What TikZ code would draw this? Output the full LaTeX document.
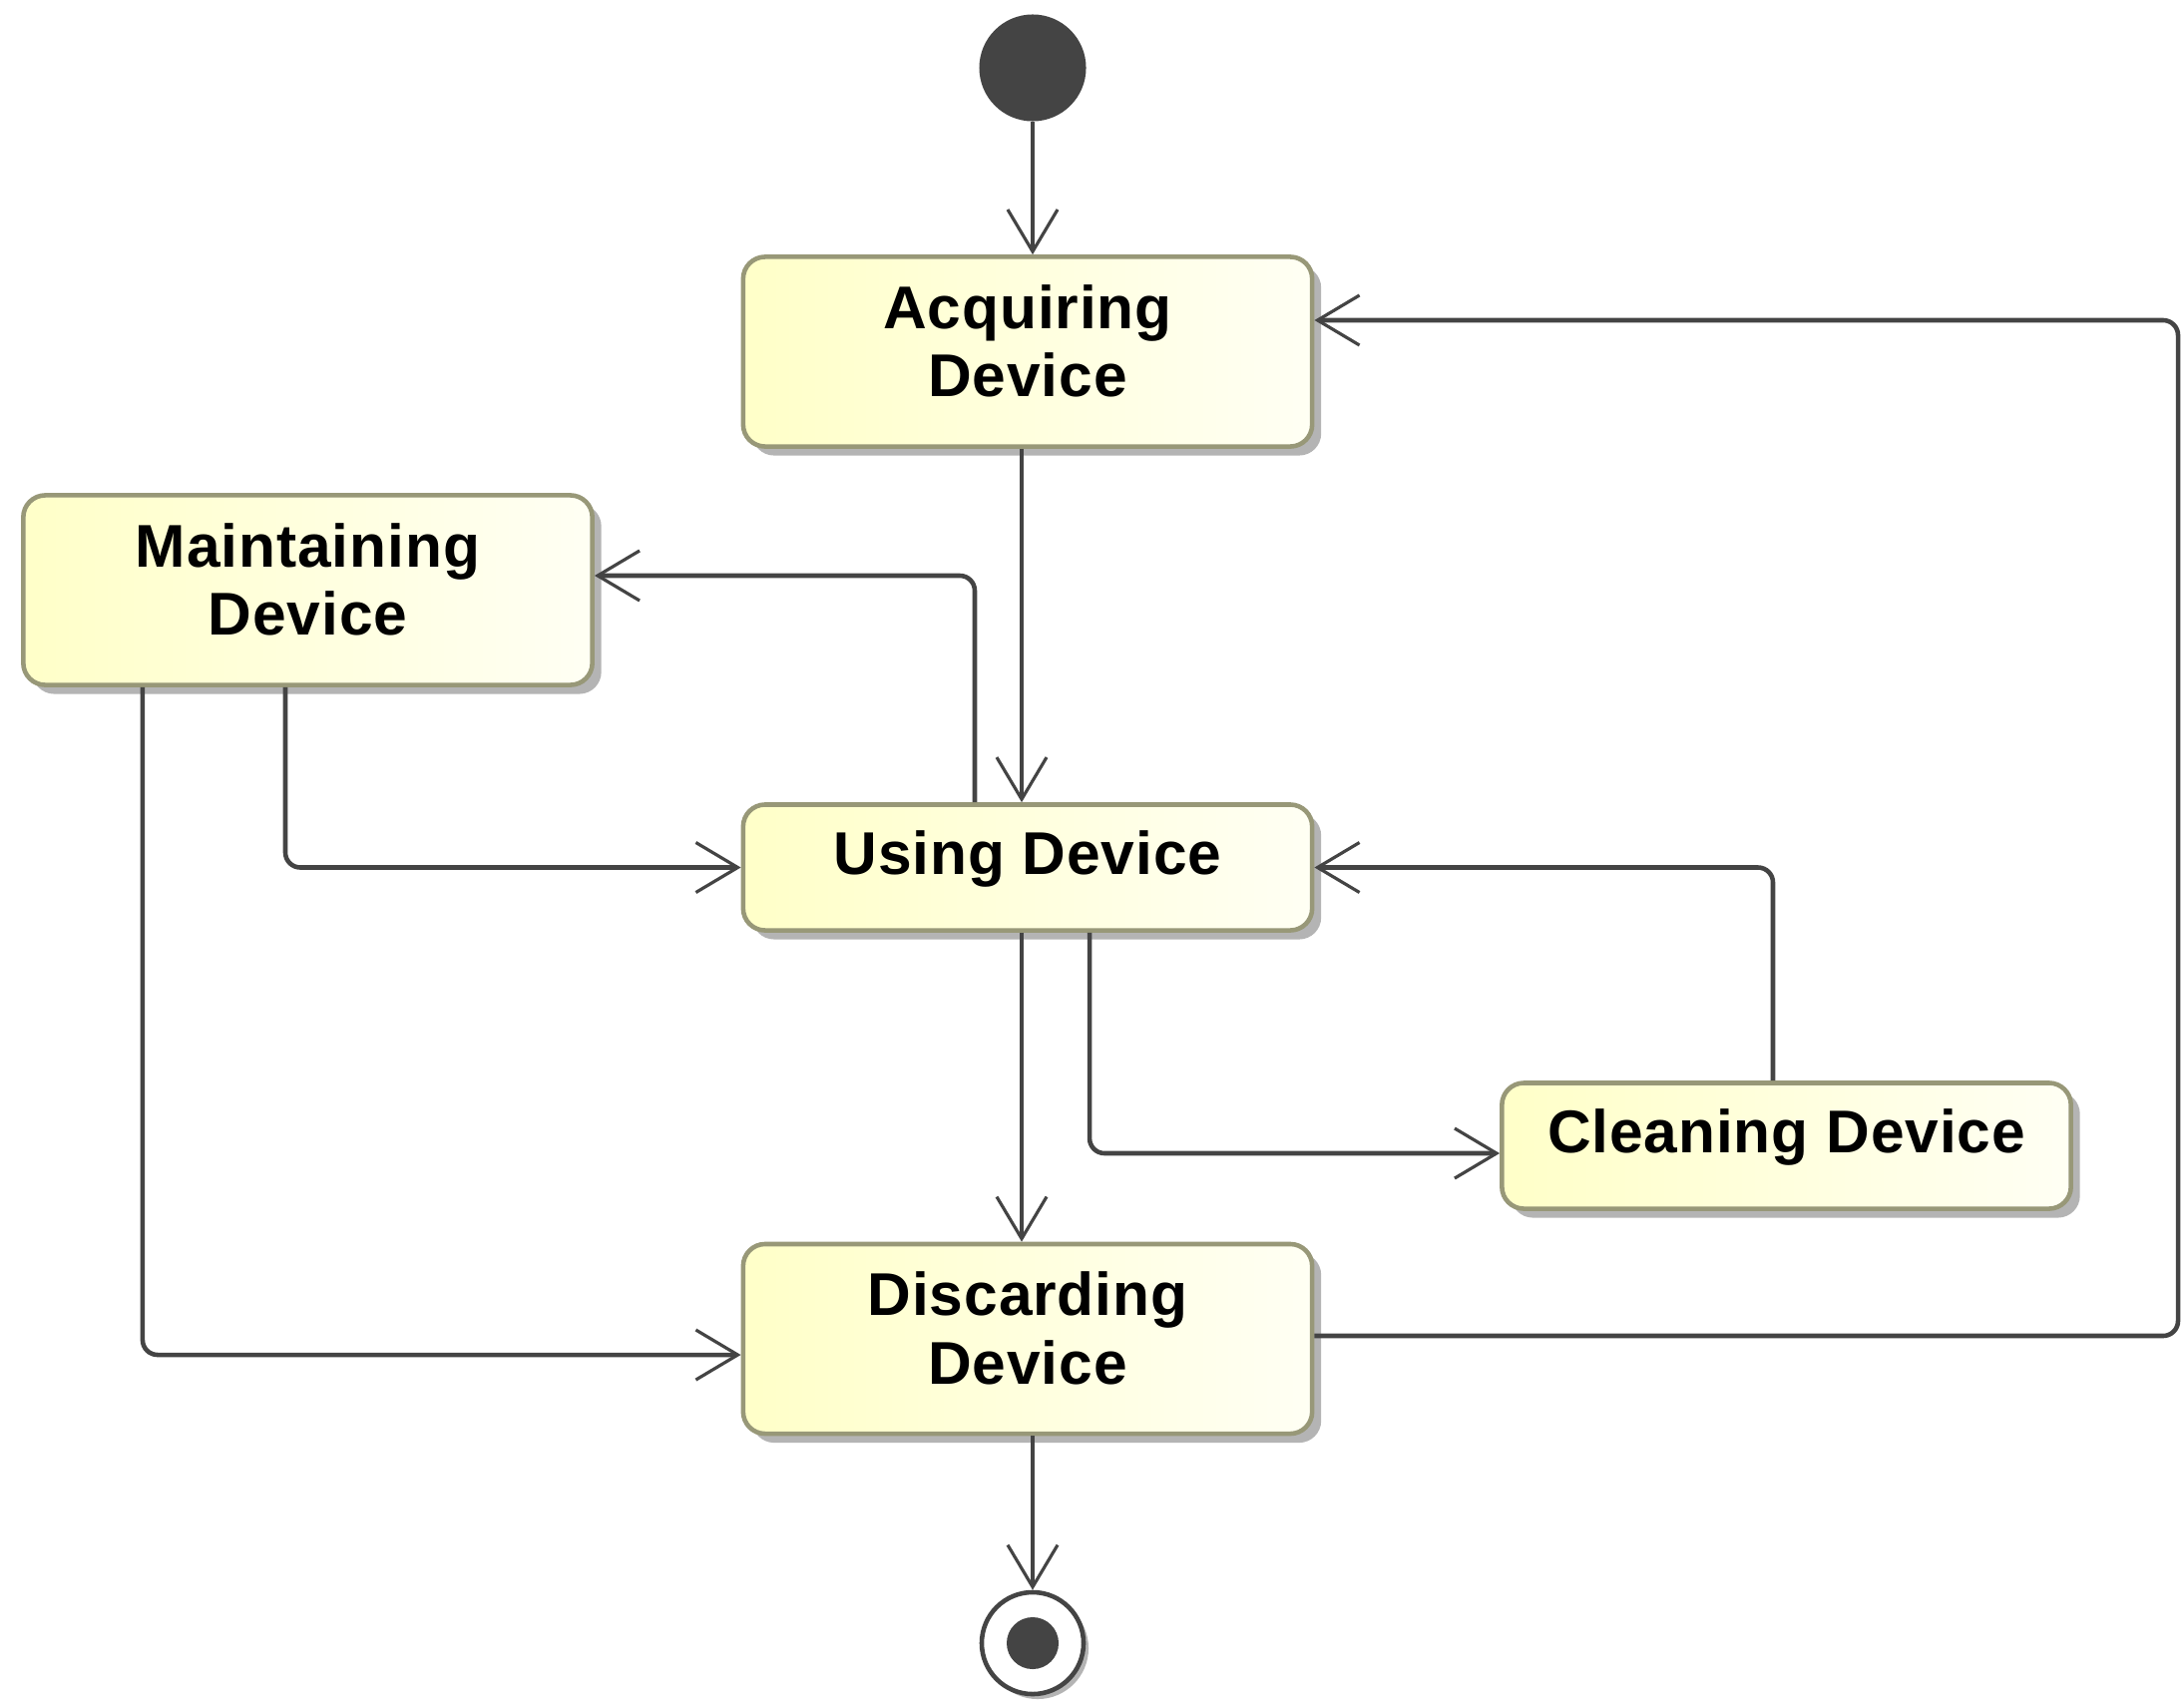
\documentclass[tikz,border=0pt]{standalone}
\usepackage{fontspec}
\setmainfont[LetterSpace=1.5]{Liberation Sans}
\usetikzlibrary{arrows.meta,shadows}
\definecolor{stateborder}{HTML}{989878}
\definecolor{statefillL}{HTML}{FFFFC8}
\definecolor{statefillR}{HTML}{FFFFF4}
\definecolor{edgecol}{HTML}{444444}
\definecolor{shadowcol}{HTML}{B4B4B4}
\tikzset{
  state/.style={draw=stateborder, line width=1.3pt, rounded corners=0.22cm,
    left color=statefillL, right color=statefillR,
    minimum width=5.7cm, align=center, inner sep=0pt, text=black,
    font=\bfseries\fontsize{17.2}{19.5}\selectfont,
    drop shadow={shadow xshift=0.09cm, shadow yshift=-0.09cm, fill=shadowcol, opacity=1}},
  tallstate/.style={state, minimum height=1.9cm, text depth=0.22cm},
  flatstate/.style={state, minimum height=1.26cm, text depth=0.29cm},
  startdot/.style={circle, fill=edgecol, minimum size=1.07cm, inner sep=0pt},
  enddot/.style={circle, draw=edgecol, fill=white, line width=1.3pt, minimum size=1.02cm, inner sep=0pt,
    drop shadow={shadow xshift=0.05cm, shadow yshift=-0.05cm, fill=shadowcol, opacity=1}},
  flow/.style={draw=edgecol, line width=1.3pt, rounded corners=0.15cm,
    -{Straight Barb[length=0.42cm, width=0.5cm, line width=0.9pt]}},
}
\begin{document}
\begin{tikzpicture}[x=0.01cm, y=-0.01cm]
  % page area
  \fill[white] (0,0) rectangle (2189,1709);

  % states
  \node[startdot] (init) at (1035,68) {};
  \node[tallstate] (acq) at (1030,352.5) {Acquiring\\Device};
  \node[tallstate] (maint) at (308.5,591.5) {Maintaining\\Device};
  \node[flatstate] (use) at (1030,869.5) {Using Device};
  \node[flatstate] (clean) at (1790.5,1148.5) {Cleaning Device};
  \node[tallstate] (disc) at (1030,1342) {Discarding\\Device};
  \node[enddot] (final) at (1035,1647) {};
  \fill[edgecol] (final) circle (0.26cm);

  \coordinate (rightrail) at (2183,0);

  % transitions
  \draw[flow] (init) -- (init |- acq.north);
  \draw[flow] ([xshift=-0.06cm]acq.south) -- ([xshift=-0.06cm]use.north);
  \draw[flow] ([xshift=-0.53cm]use.north) |- ([yshift=0.145cm]maint.east);
  \draw[flow] ([xshift=-0.225cm]maint.south) |- (use.west);
  \draw[flow] ([xshift=-1.655cm]maint.south) |- ([yshift=-0.16cm]disc.west);
  \draw[flow] ([xshift=-0.06cm]use.south) -- ([xshift=-0.06cm]disc.north);
  \draw[flow] ([xshift=0.62cm]use.south) |- ([yshift=-0.075cm]clean.west);
  \draw[flow] ([xshift=-0.135cm]clean.north) |- (use.east);
  \draw[flow] ([yshift=0.03cm]disc.east) -- ([yshift=0.03cm]disc.east -| rightrail)
              |- ([yshift=0.315cm]acq.east);
  \draw[flow] (disc.south -| final) -- (final.north);
\end{tikzpicture}
\end{document}
